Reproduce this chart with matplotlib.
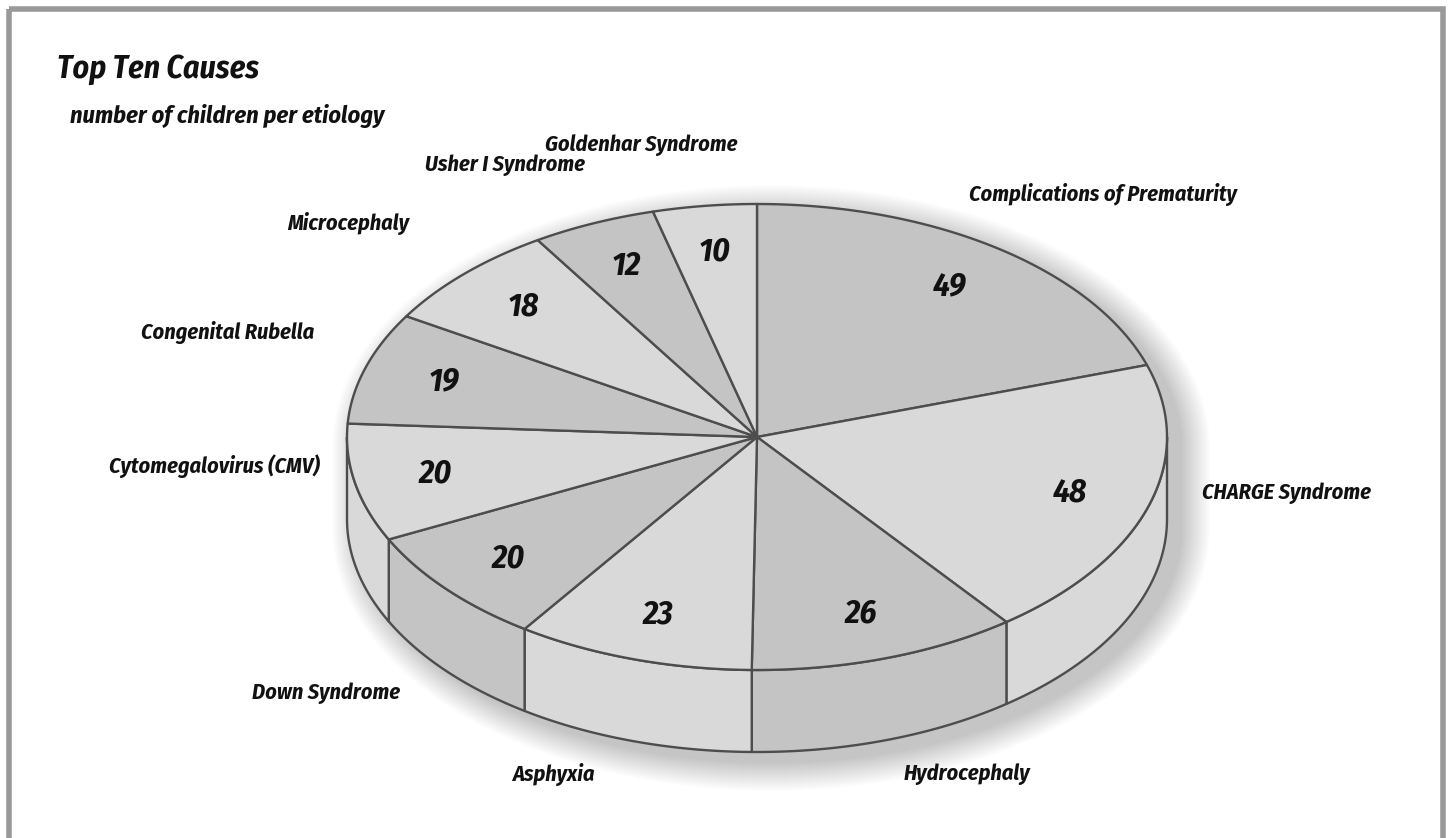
import numpy as np
import matplotlib
matplotlib.use("Agg")
from matplotlib import pyplot as plt
from matplotlib.patches import Polygon, Rectangle

# number of children per etiology (clockwise from 12 o'clock)
causes = ["Complications of Prematurity", "CHARGE Syndrome", "Hydrocephaly", "Asphyxia",
          "Down Syndrome", "Cytomegalovirus (CMV)", "Congenital Rubella", "Microcephaly",
          "Usher I Syndrome", "Goldenhar Syndrome"]
children = [49, 48, 26, 23, 20, 20, 19, 18, 12, 10]

FONT = ["Fira Sans Condensed", "Roboto Condensed", "DejaVu Sans"]
dark, light = "#c4c4c4", "#d9d9d9"
edge = "#4d4d4d"

W, H = 1450, 838
fig = plt.figure(figsize=(W / 100, H / 100), dpi=100)
ax = fig.add_axes([0, 0, 1, 1])
ax.set_xlim(0, W)
ax.set_ylim(H, 0)
ax.axis("off")

# frame (no bottom line)
ax.add_patch(Rectangle((9.5, 9.5), 1434, 900, fill=False, edgecolor="#999999", lw=4))

# pie geometry (pixels)
cx, cy, rx, ry, depth = 757, 437, 410, 233, 82


def pt(theta, dy=0.0, sx=rx, sy=ry):
    return cx + sx * np.cos(theta), cy + dy - sy * np.sin(theta)


vals = np.array(children, dtype=float)
frac = np.concatenate([[0], np.cumsum(vals)]) / vals.sum()
angles = np.pi / 2 - 2 * np.pi * frac   # decreasing = clockwise

# soft shadow
t_up = np.linspace(0, np.pi, 120)
t_lo = np.linspace(np.pi, 2 * np.pi, 120)
for k in range(1, 30):
    xs = list(cx + 14 + (rx + k) * np.cos(t_up)) + list(cx + 14 + (rx + k) * np.cos(t_lo))
    ys = list(cy + 10 - (ry + k) * np.sin(t_up)) + list(cy + 10 + depth - (ry + k) * np.sin(t_lo))
    ax.add_patch(Polygon(np.column_stack([xs, ys]), closed=True, facecolor="black",
                         edgecolor="none", alpha=0.009, zorder=1))

# side walls (front half only)
for i in range(len(vals)):
    a1, a2 = angles[i], angles[i + 1]
    lo, hi = max(a2, -np.pi), min(a1, 0.0)
    if hi <= lo:
        continue
    t = np.linspace(hi, lo, 80)
    top = [pt(a) for a in t]
    bot = [pt(a, depth) for a in t[::-1]]
    color = dark if i % 2 == 0 else light
    ax.add_patch(Polygon(top + bot, closed=True, facecolor=color, edgecolor=edge,
                         lw=1.7, joinstyle="round", zorder=2))

# top faces
for i in range(len(vals)):
    a1, a2 = angles[i], angles[i + 1]
    t = np.linspace(a1, a2, 120)
    verts = [(cx, cy)] + [pt(a) for a in t]
    color = dark if i % 2 == 0 else light
    ax.add_patch(Polygon(verts, closed=True, facecolor=color, edgecolor=edge,
                         lw=1.7, joinstyle="round", zorder=3))

# value labels
mids = (angles[:-1] + angles[1:]) / 2
for v, m in zip(children, mids):
    x, y = pt(m, sx=0.8 * rx, sy=0.8 * ry)
    ax.text(x, y, str(v), fontsize=24, fontweight="bold", fontstyle="italic",
            family=FONT, ha="center", va="center", color="#111111", zorder=5)

# category labels, outside the pie (below the wall for the front slices)
for name, m in zip(causes, mids):
    c, s = np.cos(m), np.sin(m)
    x = cx + 1.22 * rx * c + 0.127 * rx * np.sign(c)
    extra = 1.27 * depth * np.clip((-s - 0.3) / 0.35, 0, 1)
    y = cy - ry * (0.103 + 1.16 * s) + extra
    ax.text(x, y, name, fontsize=16, fontweight="bold", fontstyle="italic",
            family=FONT, ha="center", va="center", color="#111111", zorder=5)

# titles
ax.text(57, 78, "Top Ten Causes", fontsize=23, fontweight="bold", fontstyle="italic",
        family=FONT, ha="left", va="baseline", color="#111111")
ax.text(70, 123, "number of children per etiology", fontsize=17.5, fontweight="bold",
        fontstyle="italic", family=FONT, ha="left", va="baseline", color="#111111")

fig.savefig("out.png", dpi=100, facecolor="white")
